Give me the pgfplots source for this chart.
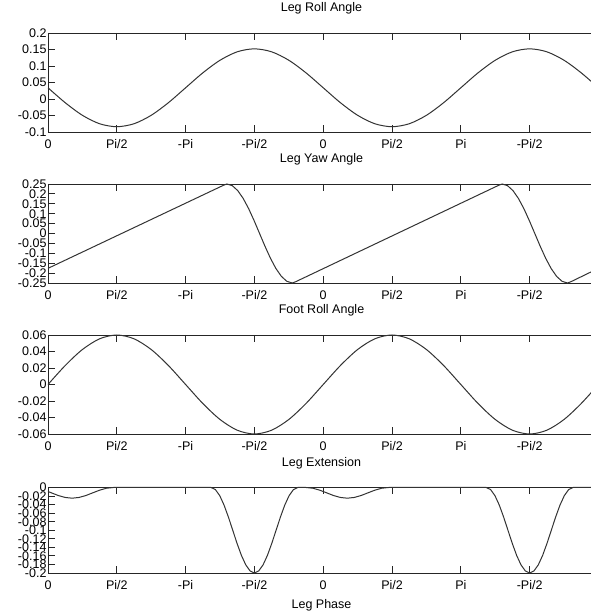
\documentclass[border=0pt]{standalone}
\usepackage{pgfplots}
\pgfplotsset{compat=1.18}
\usepackage{fontspec}
\setmainfont{Liberation Sans}
\begin{document}
\begin{tikzpicture}
\pgfplotsset{
  panel/.style={
    scale only axis, width=547pt, xmin=0, xmax=7.95,
    xtick={0,1,2,3,4,5,6,7},
    xticklabels={0,Pi/2,-Pi,-Pi/2,0,Pi/2,Pi,-Pi/2},
    scaled y ticks=false,
    ytick pos=left, xtick pos=both, tick align=inside,
    major tick length=7pt,
    tick style={black!85, line width=0.8pt},
    axis line style={black!85, line width=0.9pt},
    tick label style={font=\fontsize{12.5}{14}\selectfont},
    xticklabel style={anchor=base, yshift=-16.5pt},
    yticklabel style={xshift=2pt},
    title style={at={(0.5,1)}, anchor=base, yshift=15pt, font=\fontsize{12.5}{14}\selectfont},
    clip=false,
  },
  curve/.style={black!80, line width=1pt, no marks},
}
\path[use as bounding box] (0,0) rectangle (590pt,614pt);

% Panel 1
\begin{axis}[panel, at={(48pt,482pt)}, anchor=south west, height=99pt,
  ymin=-0.1, ymax=0.2,
  ytick={-0.1,-0.05,0,0.05,0.1,0.15,0.2},
  yticklabels={-0.1,-0.05,0,0.05,0.1,0.15,0.2},
  title={Leg Roll Angle}]
\addplot[curve, smooth] coordinates {
(0,0.034) (0.25,-0.0112) (0.5,-0.0494) (0.75,-0.0750) (1,-0.084) (1.25,-0.0750) (1.5,-0.0494) (1.75,-0.0112)
(2,0.034) (2.25,0.0792) (2.5,0.1174) (2.75,0.1430) (3,0.152) (3.25,0.1430) (3.5,0.1174) (3.75,0.0792)
(4,0.034) (4.25,-0.0112) (4.5,-0.0494) (4.75,-0.0750) (5,-0.084) (5.25,-0.0750) (5.5,-0.0494) (5.75,-0.0112)
(6,0.034) (6.25,0.0792) (6.5,0.1174) (6.75,0.1430) (7,0.152) (7.25,0.1430) (7.5,0.1174) (7.75,0.0792) (8,0.034)};
\end{axis}

% Panel 2
\begin{axis}[panel, at={(48pt,331pt)}, anchor=south west, height=99pt,
  ymin=-0.25, ymax=0.25,
  ytick={-0.25,-0.2,-0.15,-0.1,-0.05,0,0.05,0.1,0.15,0.2,0.25},
  yticklabels={-0.25,-0.2,-0.15,-0.1,-0.05,0,0.05,0.1,0.15,0.2,0.25},
  title={Leg Yaw Angle}]
\addplot[curve] coordinates {
(0,-0.176) (2.55,0.2435) (2.6,0.25) (2.679,0.2415) (2.758,0.2165) (2.8375,0.1768) (2.917,0.125) (2.996,0.0647) (3.075,0)
(3.154,-0.0647) (3.233,-0.125) (3.3125,-0.1768) (3.392,-0.2165) (3.471,-0.2415) (3.55,-0.25) (3.6,-0.2435)
(6.55,0.2435) (6.6,0.25) (6.679,0.2415) (6.758,0.2165) (6.8375,0.1768) (6.917,0.125) (6.996,0.0647) (7.075,0)
(7.154,-0.0647) (7.233,-0.125) (7.3125,-0.1768) (7.392,-0.2165) (7.471,-0.2415) (7.55,-0.25) (7.6,-0.2435) (8,-0.176)};
\end{axis}

% Panel 3
\begin{axis}[panel, at={(48pt,180pt)}, anchor=south west, height=99pt,
  ymin=-0.06, ymax=0.06,
  ytick={-0.06,-0.04,-0.02,0,0.02,0.04,0.06},
  yticklabels={-0.06,-0.04,-0.02,0,0.02,0.04,0.06},
  title={Foot Roll Angle}]
\addplot[curve, smooth] coordinates {
(0,0) (0.25,0.0230) (0.5,0.0424) (0.75,0.0554) (1,0.06) (1.25,0.0554) (1.5,0.0424) (1.75,0.0230)
(2,0) (2.25,-0.0230) (2.5,-0.0424) (2.75,-0.0554) (3,-0.06) (3.25,-0.0554) (3.5,-0.0424) (3.75,-0.0230)
(4,0) (4.25,0.0230) (4.5,0.0424) (4.75,0.0554) (5,0.06) (5.25,0.0554) (5.5,0.0424) (5.75,0.0230)
(6,0) (6.25,-0.0230) (6.5,-0.0424) (6.75,-0.0554) (7,-0.06) (7.25,-0.0554) (7.5,-0.0424) (7.75,-0.0230) (8,0)};
\end{axis}

% Panel 4
\begin{axis}[panel, at={(48pt,41pt)}, anchor=south west, height=85.5pt,
  ymin=-0.2, ymax=0,
  ytick={-0.2,-0.18,-0.16,-0.14,-0.12,-0.1,-0.08,-0.06,-0.04,-0.02,0},
  yticklabels={-0.2,-0.18,-0.16,-0.14,-0.12,-0.1,-0.08,-0.06,-0.04,-0.02,0},
  title={Leg Extension},
  xlabel={Leg Phase},
  xlabel style={at={(0.5,0)}, anchor=base, yshift=-35pt, font=\fontsize{12.5}{14}\selectfont}]
\addplot[curve] coordinates {
(0,-0.0093) (0.05,-0.0125) (0.15,-0.0188) (0.25,-0.0233) (0.35,-0.025) (0.45,-0.0233) (0.55,-0.0188)
(0.65,-0.0125) (0.75,-0.0063) (0.85,-0.0017) (0.95,0)
(2.37,0) (2.433,-0.0049) (2.496,-0.0191) (2.559,-0.0412) (2.622,-0.0691) (2.685,-0.1) (2.748,-0.1309)
(2.811,-0.1588) (2.874,-0.1809) (2.937,-0.1951) (3.0,-0.2) (3.063,-0.1951) (3.126,-0.1809) (3.189,-0.1588)
(3.252,-0.1309) (3.315,-0.1) (3.378,-0.0691) (3.441,-0.0412) (3.504,-0.0191) (3.567,-0.0049) (3.63,0)
(3.75,0) (3.85,-0.0017) (3.95,-0.0063) (4.05,-0.0125) (4.15,-0.0188) (4.25,-0.0233) (4.35,-0.025)
(4.45,-0.0233) (4.55,-0.0188) (4.65,-0.0125) (4.75,-0.0063) (4.85,-0.0017) (4.95,0)
(6.37,0) (6.433,-0.0049) (6.496,-0.0191) (6.559,-0.0412) (6.622,-0.0691) (6.685,-0.1) (6.748,-0.1309)
(6.811,-0.1588) (6.874,-0.1809) (6.937,-0.1951) (7.0,-0.2) (7.063,-0.1951) (7.126,-0.1809) (7.189,-0.1588)
(7.252,-0.1309) (7.315,-0.1) (7.378,-0.0691) (7.441,-0.0412) (7.504,-0.0191) (7.567,-0.0049) (7.63,0) (8,0)};
\end{axis}
\end{tikzpicture}
\end{document}
